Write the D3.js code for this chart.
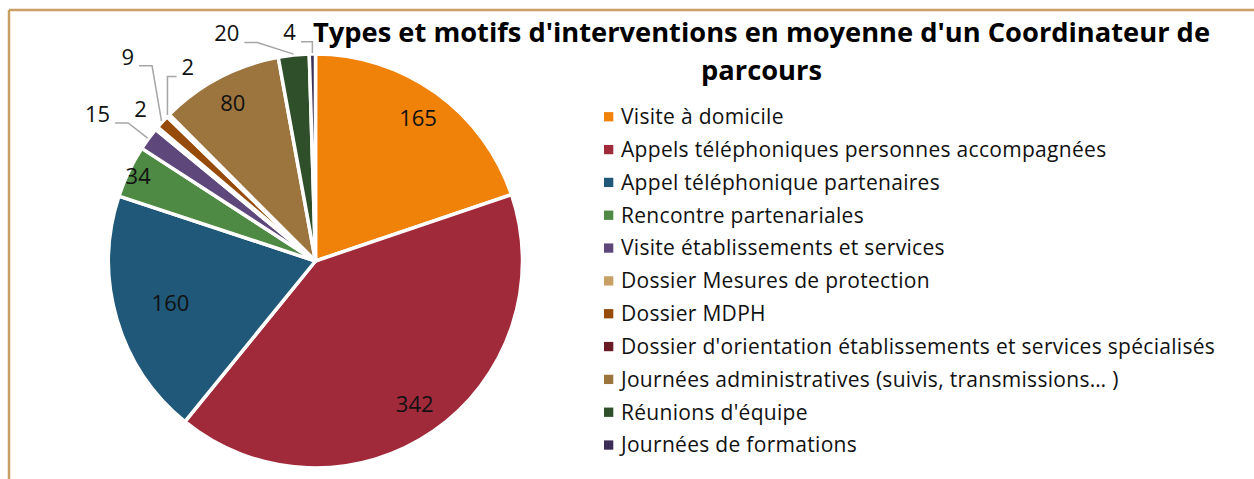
<!DOCTYPE html>
<html>
<head>
<meta charset="utf-8">
<script src="https://cdn.jsdelivr.net/npm/d3@7"></script>
<style>
body { margin: 0; background: #fff; }
svg { display: block; font-family: "Open Sans", sans-serif; }
.legend-label { font-size: 21px; letter-spacing: 0.3px; fill: #111; }
.value-label { font-size: 22px; fill: #111; }
.title { font-size: 27px; font-weight: bold; fill: #000; }
.leader { fill: none; stroke: #a6a6a6; stroke-width: 1.5; }
</style>
</head>
<body>
<div class="graph"></div>
<script>
// catégories et valeurs
var categories = [
  "Visite à domicile",
  "Appels téléphoniques personnes accompagnées",
  "Appel téléphonique partenaires",
  "Rencontre partenariales",
  "Visite établissements et services",
  "Dossier Mesures de protection",
  "Dossier MDPH",
  "Dossier d'orientation établissements et services spécialisés",
  "Journées administratives (suivis, transmissions… )",
  "Réunions d'équipe",
  "Journées de formations"
];
var valeurs = [165, 342, 160, 34, 15, 2, 9, 2, 80, 20, 4];
var couleurs = ["#f0820a", "#a0293a", "#1f5879", "#4e8a44", "#5e477a", "#c9a063",
  "#974b0b", "#6b1b24", "#9c743d", "#2f4f2b", "#3b2d55"];
var titre = ["Types et motifs d'interventions en moyenne d'un Coordinateur de", "parcours"];

// placement des étiquettes (façon "ajustement optimal")
var rayonEtiquette = [0.85, 0.84, 0.73, 0.95, 0, 0, 0, 0, 0.86, 0, 0];
var etiquettesExt = {
  4: {angle: 304, k: 1.27, ligne: true},
  5: {angle: 311, k: 1.12, ligne: false},
  6: {angle: 317.4, k: 1.34, ligne: true},
  7: {angle: 326.6, k: 1.12, ligne: true},
  9: {angle: 338.7, k: 1.18, ligne: true},
  10: {angle: 353.5, k: 1.11, ligne: true}
};

var width = 1254, height = 479,
  cx = 315.5, cy = 261, r = 207;

var svg = d3.select(".graph").append("svg")
  .attr("width", width)
  .attr("height", height);

// cadre (haut et gauche)
svg.append("line").attr("x1", 9).attr("x2", width).attr("y1", 10).attr("y2", 10)
  .attr("stroke", "#c9a064").attr("stroke-width", 2.5);
svg.append("line").attr("x1", 9).attr("x2", 9).attr("y1", 10).attr("y2", height)
  .attr("stroke", "#c9a064").attr("stroke-width", 2.5);

var data = categories.map(function(c, i) { return {cat: c, value: valeurs[i], i: i}; });

var pie = d3.pie().sort(null).value(function(d) { return d.value; });
var arc = d3.arc().innerRadius(0).outerRadius(r);
var arcs = pie(data);

var g = svg.append("g").attr("transform", "translate(" + cx + "," + cy + ")");

g.selectAll("path.slice")
  .data(arcs)
  .enter().append("path")
  .attr("class", "slice")
  .attr("d", arc)
  .attr("fill", function(d) { return couleurs[d.index]; })
  .attr("stroke", "#fff")
  .attr("stroke-width", 3.5)
  .attr("stroke-linejoin", "round");

function polar(angleDeg, rad) {
  var a = angleDeg * Math.PI / 180;
  return [rad * Math.sin(a), -rad * Math.cos(a)];
}

// étiquettes intérieures
g.selectAll("text.inside")
  .data(arcs.filter(function(d) { return rayonEtiquette[d.index] > 0; }))
  .enter().append("text")
  .attr("class", "value-label inside")
  .attr("text-anchor", "middle")
  .attr("dy", "0.35em")
  .attr("transform", function(d) {
    var mid = (d.startAngle + d.endAngle) / 2 * 180 / Math.PI;
    return "translate(" + polar(mid, r * rayonEtiquette[d.index]) + ")";
  })
  .text(function(d) { return d.value; });

// étiquettes extérieures + lignes de repère
arcs.forEach(function(d) {
  var e = etiquettesExt[d.index];
  if (!e) return;
  var p = polar(e.angle, r * e.k);
  var t = g.append("text")
    .attr("class", "value-label")
    .attr("text-anchor", "middle")
    .attr("dy", "0.35em")
    .attr("x", p[0]).attr("y", p[1])
    .text(d.value);
  if (!e.ligne) return;
  var w = t.node().getBBox().width;
  var mid = (d.startAngle + d.endAngle) / 2 * 180 / Math.PI;
  var pt = polar(mid, r + 1);
  var sens = pt[0] > p[0] ? 1 : -1;
  var x0 = p[0] + sens * (w / 2 + 5), y0 = p[1] + 9;
  var x1 = x0 + sens * Math.min(13, Math.abs(pt[0] - x0));
  g.append("path")
    .attr("class", "leader")
    .attr("d", d3.line()([[x0, y0], [x1, y0], pt]));
});

// titre
var titreX = 761.5, titreLargeur = 897;
var t1 = svg.append("text").attr("class", "title")
  .attr("x", titreX).attr("y", 42).attr("text-anchor", "middle").text(titre[0]);
var w1 = t1.node().getComputedTextLength();
var facteur = titreLargeur / w1;
t1.attr("textLength", titreLargeur).attr("lengthAdjust", "spacingAndGlyphs");
var t2 = svg.append("text").attr("class", "title")
  .attr("x", titreX).attr("y", 80).attr("text-anchor", "middle").text(titre[1]);
t2.attr("textLength", t2.node().getComputedTextLength() * facteur)
  .attr("lengthAdjust", "spacingAndGlyphs");

// légende
var y = d3.scalePoint().domain(d3.range(categories.length)).range([116.7, 445]);
var legend = svg.selectAll("g.legend")
  .data(data)
  .enter().append("g")
  .attr("class", "legend")
  .attr("transform", function(d) { return "translate(604," + y(d.i) + ")"; });

legend.append("rect")
  .attr("x", 0).attr("y", -4.6)
  .attr("width", 9.3).attr("height", 9.3)
  .attr("fill", function(d) { return couleurs[d.i]; });

legend.append("text")
  .attr("class", "legend-label")
  .attr("x", 17)
  .attr("dy", "0.35em")
  .text(function(d) { return d.cat; });
</script>
</body>
</html>
